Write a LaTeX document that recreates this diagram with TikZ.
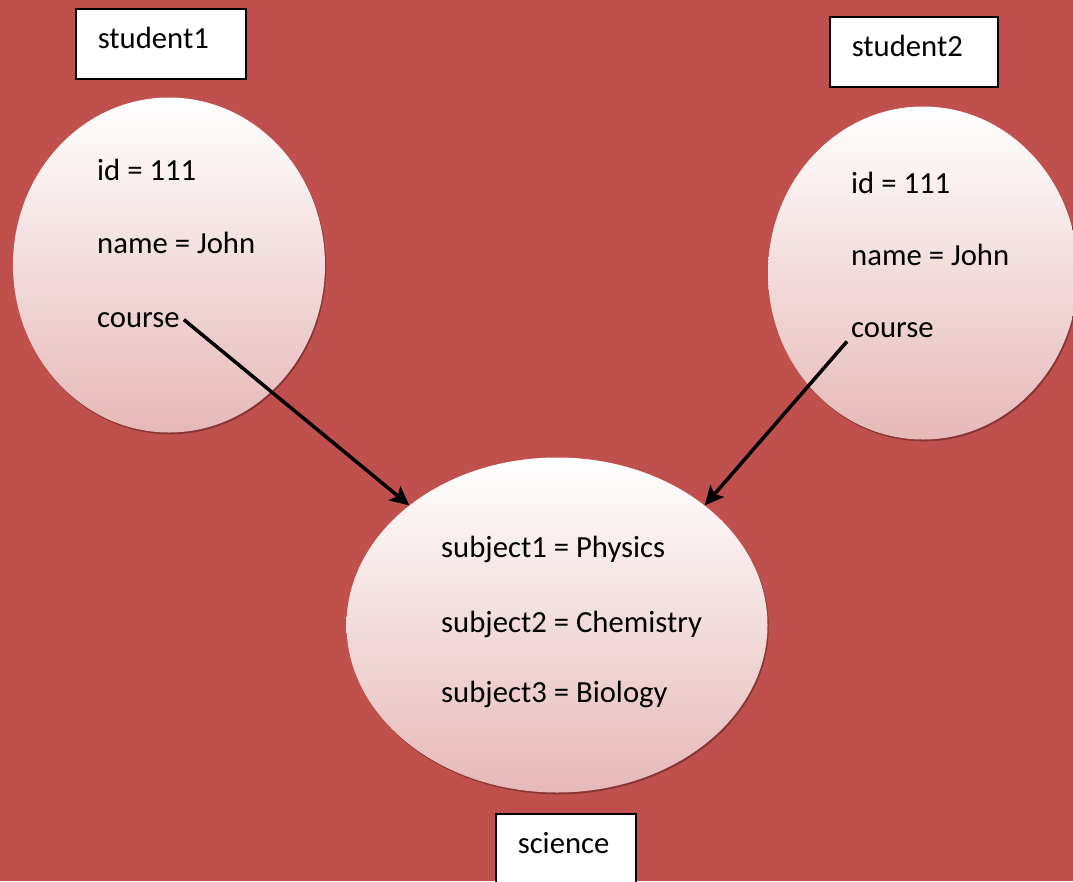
\documentclass[tikz,border=0pt]{standalone}
\usepackage{fontspec}
\setmainfont{Carlito}
\usetikzlibrary{arrows.meta,shapes.geometric,shadows}

\definecolor{bgred}{HTML}{C0504D}
\definecolor{objpink}{HTML}{E6B9B8}
\definecolor{edgered}{HTML}{7A2E2C}

\begin{document}
\begin{tikzpicture}[x=1pt, y=-1pt,
  font=\fontsize{30.7}{36}\selectfont,
  obj/.style={ellipse, inner sep=0pt, draw=none, top color=white, bottom color=objpink,
    drop shadow={shadow xshift=1.2pt, shadow yshift=-1.8pt, fill=edgered, opacity=0.8}},
  fld/.style={anchor=base west, inner sep=4pt},
  lbl/.style={draw=black, line width=1.5pt, fill=white, anchor=north west, align=left,
    text height=21pt, text depth=11pt, inner ysep=19pt, inner xsep=22pt},
  link/.style={-{Stealth[length=19pt,width=18pt,inset=4pt]}, line width=3.5pt}]
\fill[bgred] (0,0) rectangle (1073,881);
\useasboundingbox (0,0) rectangle (1073,881);

\node[obj, minimum width=312pt, minimum height=335pt] (s1obj) at (169,265) {};
\node[obj, minimum width=310pt, minimum height=333pt] (s2obj) at (923,273) {};
\node[obj, minimum width=421pt, minimum height=335pt] (sciobj) at (557,625) {};

\node[lbl, text width=126pt] (s1) at (75,8) {student1};
\node[lbl, text width=124pt] (s2) at (829,16) {student2};
\node[lbl, text width=96pt] (sci) at (495,813) {science};

\node[fld] (s1id) at (93,180) {id = 111};
\node[fld] (s1name) at (93,253) {name = John};
\node[fld] (s1course) at (93,327) {course};

\node[fld] (s2id) at (847,193) {id = 111};
\node[fld] (s2name) at (847,265) {name = John};
\node[fld] (s2course) at (847,337) {course};

\node[fld] (sub1) at (437,557) {subject1 = Physics};
\node[fld] (sub2) at (437,632) {subject2 = Chemistry};
\node[fld] (sub3) at (437,702) {subject3 = Biology};

\draw[link] (s1course.east) -- (sciobj.141);
\draw[link] (s2course.south west) -- (sciobj.39);
\end{tikzpicture}
\end{document}
